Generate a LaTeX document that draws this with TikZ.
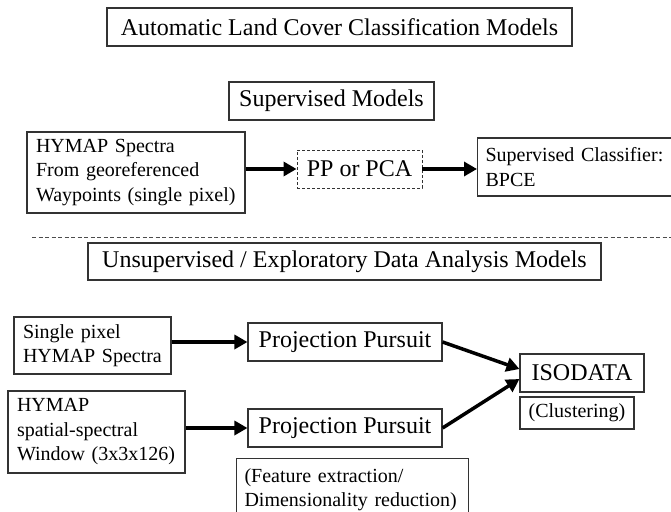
\documentclass[tikz,border=0pt]{standalone}
\usepackage{fontspec}
\setmainfont{Liberation Serif}
\usetikzlibrary{arrows.meta}

\begin{document}
\begin{tikzpicture}[x=1pt,y=-1pt,
  bigbox/.style={draw=black!80,line width=1.1pt,inner sep=0pt,minimum height=38pt,font=\fontsize{24}{28}\selectfont},
  txtbox/.style={draw=black!80,line width=1.1pt,inner xsep=9pt,inner ysep=0pt,align=left,font=\fontsize{20}{24.5}\selectfont},
  flow/.style={line width=3.5pt,-{Triangle[length=13pt,width=14pt]}}]%
\useasboundingbox (0,0) rectangle (671,511);%
% headings
\node[bigbox,minimum width=465pt] (title) at (339.5,27) {Automatic Land Cover Classification Models};%
\node[bigbox,minimum width=205pt] (supv) at (331.5,101) {Supervised Models};%
\node[bigbox,minimum width=513pt,minimum height=37pt] (unsup) at (344.5,261.5) {Unsupervised / Exploratory Data Analysis Models};%
% supervised chain
\node[txtbox,text width=200pt,minimum height=81pt] (hymap) at (136,172.5) {HYMAP Spectra\\From georeferenced\\Waypoints (single pixel)};%
\node[bigbox,minimum width=125pt,line width=0.9pt,dash pattern=on 3pt off 2pt] (ppca) at (359.5,169) {PP or PCA};%
\node[txtbox,text width=200pt,minimum height=58pt,inner xsep=8pt,anchor=west] (classif) at (477,167) {Supervised Classifier:\\BPCE};%
\draw[flow] (hymap.east |- ppca.west) -- (ppca.west);%
\draw[flow] (ppca.east) -- (ppca.east -| classif.west);%
% split line
\draw[black!70,line width=0.8pt,dash pattern=on 4pt off 2.5pt] (32,237) -- (671,237);%
% unsupervised chain
\node[txtbox,text width=139pt,minimum height=57pt] (single) at (92.5,345.5) {Single pixel\\HYMAP Spectra};%
\node[txtbox,text width=159pt,minimum height=82pt] (spatial) at (96.5,432) {HYMAP\\spatial-spectral\\Window (3x3x126)};%
\node[bigbox,minimum width=194pt] (pp1) at (345,342) {Projection Pursuit};%
\node[bigbox,minimum width=194pt] (pp2) at (345,428) {Projection Pursuit};%
\node[txtbox,text width=216pt,inner xsep=8pt,minimum height=62pt,anchor=north west] (feat) at (236,458) {(Feature extraction/\\Dimensionality reduction)};%
\node[bigbox,minimum width=124pt] (iso) at (582,373) {ISODATA};%
\node[txtbox,inner xsep=0pt,minimum width=114pt,minimum height=32pt] (clust) at (577,413) {(Clustering)};%
\draw[flow] (single.east |- pp1.west) -- (pp1.west);%
\draw[flow] (spatial.east |- pp2.west) -- (pp2.west);%
\draw[flow] (pp1.east) -- ([yshift=4pt]iso.west);%
\draw[flow] (pp2.east) -- ([yshift=-6pt]iso.west);%
\end{tikzpicture}
\end{document}
